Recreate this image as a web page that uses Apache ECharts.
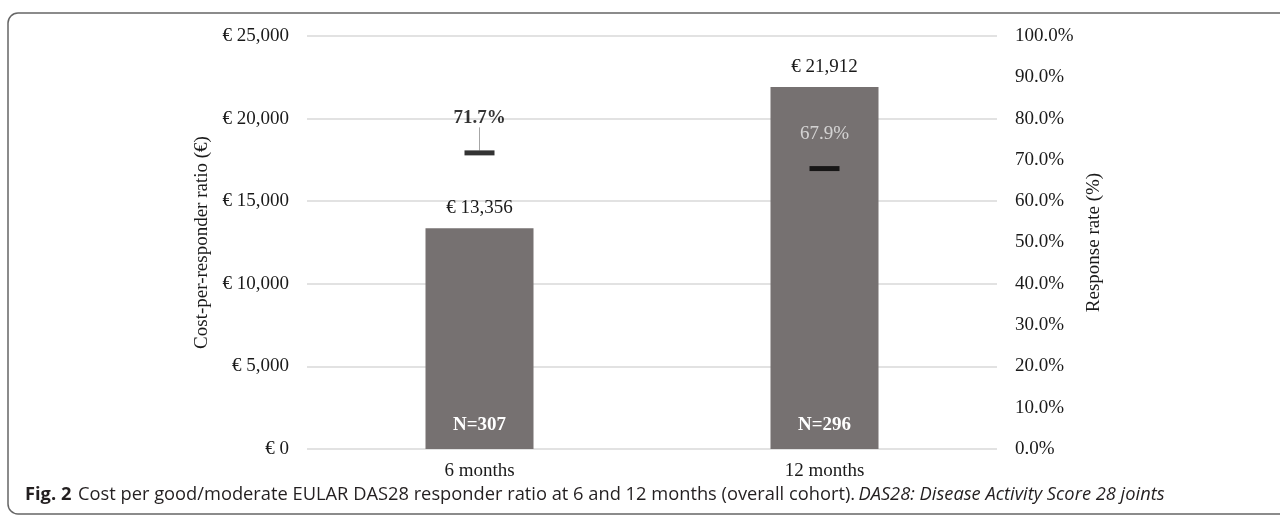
<!DOCTYPE html>
<html>
<head>
<meta charset="utf-8">
<script src="https://cdn.jsdelivr.net/npm/echarts@6/dist/echarts.min.js"></script>
<style>
html,body{margin:0;padding:0;background:#fff;}
#chart{width:1280px;height:515px;}
</style>
</head>
<body>
<div id="chart"></div>
<script>
const categories = ['6 months', '12 months'];
const costPerResponder = [13356, 21912];
const responseRate = [71.7, 67.9];
const sampleSizes = [307, 296];
const leftTicks = [0, 5000, 10000, 15000, 20000, 25000];
const rightTicks = [0, 10, 20, 30, 40, 50, 60, 70, 80, 90, 100];

const SERIF = '"Liberation Serif", "Times New Roman", serif';
const FS = 19;
const fmtEuro = v => '€ ' + Number(v).toLocaleString('en-US');

const chart = echarts.init(document.getElementById('chart'));
chart.setOption({
  animation: false,
  backgroundColor: '#fff',
  grid: { left: 307, right: 283, top: 36, bottom: 66 },
  xAxis: {
    type: 'category',
    data: categories,
    axisLine: { show: false },
    axisTick: { show: false },
    axisLabel: { fontFamily: SERIF, fontSize: FS, color: '#1a1a1a', margin: 13 }
  },
  yAxis: [
    {
      type: 'value',
      min: leftTicks[0], max: leftTicks[leftTicks.length - 1], interval: leftTicks[1] - leftTicks[0],
      name: 'Cost-per-responder ratio (€)',
      nameLocation: 'middle', nameRotate: 90, nameGap: 93,
      nameTextStyle: { fontFamily: SERIF, fontSize: FS, color: '#1a1a1a' },
      axisLine: { show: false }, axisTick: { show: false },
      axisLabel: { fontFamily: SERIF, fontSize: FS, color: '#1a1a1a', margin: 18, formatter: fmtEuro },
      splitLine: { show: true, lineStyle: { color: '#d9d9d9', width: 1.5 } }
    },
    {
      type: 'value',
      min: rightTicks[0], max: rightTicks[rightTicks.length - 1], interval: rightTicks[1] - rightTicks[0],
      name: 'Response rate (%)',
      nameLocation: 'middle', nameRotate: 90, nameGap: 86,
      nameTextStyle: { fontFamily: SERIF, fontSize: FS, color: '#1a1a1a' },
      axisLine: { show: false }, axisTick: { show: false },
      axisLabel: { fontFamily: SERIF, fontSize: FS, color: '#1a1a1a', margin: 18, formatter: v => v.toFixed(1) + '%' },
      splitLine: { show: false }
    }
  ],
  series: [
    {
      type: 'bar',
      yAxisIndex: 0,
      data: costPerResponder,
      barWidth: 108,
      itemStyle: { color: '#767171' },
      label: {
        show: true, position: 'top', distance: 10.5,
        fontFamily: SERIF, fontSize: FS, color: '#1a1a1a',
        formatter: p => fmtEuro(p.value)
      },
      z: 2
    },
    {
      type: 'bar',
      yAxisIndex: 0,
      data: costPerResponder,
      barWidth: 108,
      barGap: '-100%',
      itemStyle: { color: 'rgba(0,0,0,0)' },
      label: {
        show: true, position: 'insideBottom', distance: 14.5,
        fontFamily: SERIF, fontSize: FS, fontWeight: 'bold', color: '#ffffff',
        formatter: p => 'N=' + sampleSizes[p.dataIndex]
      },
      silent: true,
      z: 3
    },
    {
      type: 'scatter',
      yAxisIndex: 1,
      symbol: 'rect',
      symbolSize: [30, 5],
      itemStyle: { color: '#000' },
      data: responseRate.map((v, i) => ({
        value: v,
        label: i === 0
          ? { fontWeight: 'bold', color: '#000' }
          : { fontWeight: 'normal', color: '#ebebeb' },
        labelLine: { show: i === 0 }
      })),
      label: {
        show: true, position: 'top', distance: 3,
        fontFamily: SERIF, fontSize: FS,
        formatter: p => p.value.toFixed(1) + '%'
      },
      labelLayout: { dy: -20 },
      labelLine: { show: false, lineStyle: { color: '#a6a6a6', width: 1 } },
      z: 5
    }
  ],
  graphic: [
    {
      type: 'rect',
      shape: { x: 8, y: 13, width: 1290, height: 501, r: 10 },
      style: { fill: 'none', stroke: '#666', lineWidth: 1.5 },
      silent: true
    },
    {
      type: 'text',
      left: 25, top: 486,
      style: {
        text: '{b|Fig. 2}  {n|Cost per good/moderate EULAR DAS28 responder ratio at 6 and 12 months (overall cohort).} {i|DAS28: Disease Activity Score 28 joints}',
        rich: {
          b: { fontFamily: '"Open Sans", sans-serif', fontSize: 18.3, fontWeight: 'bold', fill: '#231f20' },
          n: { fontFamily: '"Open Sans", sans-serif', fontSize: 18.3, fill: '#231f20' },
          i: { fontFamily: '"Open Sans", sans-serif', fontSize: 18.3, fontStyle: 'italic', fill: '#231f20' }
        }
      }
    }
  ]
});
</script>
</body>
</html>
